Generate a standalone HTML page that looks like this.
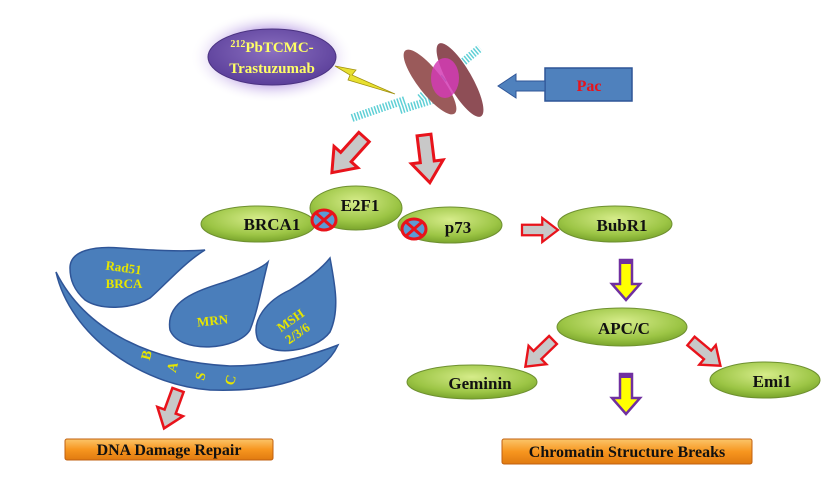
<!DOCTYPE html>
<html><head><meta charset="utf-8"><style>
html,body{margin:0;padding:0;background:#fff}
svg{display:block}
text{font-family:"Liberation Serif",serif;font-weight:bold}
</style></head><body>
<svg width="831" height="494" viewBox="0 0 831 494" xmlns="http://www.w3.org/2000/svg">
<defs>
<radialGradient id="g" cx="50%" cy="35%" r="65%"><stop offset="0" stop-color="#d6ec8a"/><stop offset="0.7" stop-color="#9cc545"/><stop offset="1" stop-color="#7aa52c"/></radialGradient>
<radialGradient id="pg" cx="50%" cy="40%" r="60%"><stop offset="0" stop-color="#8a6fc0"/><stop offset="1" stop-color="#5b3f9a"/></radialGradient>
<radialGradient id="glow" cx="50%" cy="50%" r="50%"><stop offset="0.6" stop-color="#c9b4ea"/><stop offset="1" stop-color="#ffffff" stop-opacity="0"/></radialGradient>
<linearGradient id="og" x1="0" y1="0" x2="0" y2="1"><stop offset="0" stop-color="#fbc56a"/><stop offset="0.5" stop-color="#f7961f"/><stop offset="1" stop-color="#e07a10"/></linearGradient>
<path id="ra" d="M-7,0 H7 V27 H16 L0,48 L-16,27 H-7 Z"/>
</defs>

<ellipse cx="272" cy="57" rx="82" ry="46" fill="url(#glow)"/>
<ellipse cx="272" cy="57" rx="64" ry="28" fill="url(#pg)" stroke="#4a3280" stroke-width="1"/>
<text x="272" y="52" font-size="15" fill="#ffff66" text-anchor="middle"><tspan font-size="10" dy="-5">212</tspan><tspan dy="5">PbTCMC-</tspan></text>
<text x="272" y="73" font-size="15" fill="#ffff66" text-anchor="middle">Trastuzumab</text>
<path d="M335,66 L356,70 L352,75 L395,94 L348,80 L350,75 Z" fill="#e8e030" stroke="#a09010" stroke-width="0.8"/>

<g stroke="#5fd0d6" stroke-width="8" stroke-dasharray="1.5 1.5" fill="none">
<path d="M352,118 L405,100"/>
<path d="M420,98 L480,48"/>
<path d="M400,110 L445,96"/>
</g>
<ellipse cx="430" cy="82" rx="12" ry="40" transform="rotate(-38 430 82)" fill="#9a5a5a"/>
<ellipse cx="460" cy="80" rx="12" ry="42" transform="rotate(-30 460 80)" fill="#8e4e56"/>
<ellipse cx="445" cy="78" rx="14" ry="20" fill="#d23cb4" opacity="0.85"/>

<rect x="545" y="68" width="87" height="33" fill="#4f81bd" stroke="#2f5597" stroke-width="1.5"/>
<text x="589" y="91" font-size="16" fill="#e8131b" text-anchor="middle">Pac</text>
<path d="M545,81 H516 V74 L498,86 L516,98 V91 H545 Z" fill="#4f81bd" stroke="#2f5597" stroke-width="1"/>

<g fill="#c8c8c8" stroke="#e8131b" stroke-width="3">
<use href="#ra" transform="translate(364,137) rotate(42)"/>
<use href="#ra" transform="translate(424,135) rotate(-7)"/>
<use href="#ra" transform="translate(522,230) rotate(-90) scale(0.75)"/>
<use href="#ra" transform="translate(553,340) rotate(46) scale(0.8)"/>
<use href="#ra" transform="translate(691,341) rotate(-50) scale(0.8)"/>
<use href="#ra" transform="translate(178,390) rotate(20) scale(0.85)"/>
</g>

<g stroke="#6e9030" stroke-width="1">
<ellipse cx="258" cy="224" rx="57" ry="18" fill="url(#g)"/>
<ellipse cx="450" cy="225" rx="52" ry="18" fill="url(#g)"/>
<ellipse cx="356" cy="208" rx="46" ry="22" fill="url(#g)"/>
<ellipse cx="615" cy="224" rx="57" ry="18" fill="url(#g)"/>
<ellipse cx="622" cy="327" rx="65" ry="19" fill="url(#g)"/>
<ellipse cx="472" cy="382" rx="65" ry="17" fill="url(#g)"/>
<ellipse cx="765" cy="380" rx="55" ry="18" fill="url(#g)"/>
</g>
<g font-size="17" fill="#111" text-anchor="middle">
<text x="272" y="230">BRCA1</text>
<text x="360" y="211">E2F1</text>
<text x="458" y="233">p73</text>
<text x="622" y="231">BubR1</text>
<text x="624" y="334">APC/C</text>
<text x="480" y="389">Geminin</text>
<text x="772" y="387">Emi1</text>
</g>
<g stroke="#e8131b" stroke-width="3" fill="#5b9bd5">
<ellipse cx="324" cy="220" rx="12" ry="10"/>
<ellipse cx="414" cy="229" rx="12" ry="10"/>
</g>
<g stroke="#e8131b" stroke-width="3">
<path d="M316,213 L332,227 M332,213 L316,227"/>
<path d="M406,222 L422,236 M422,222 L406,236"/>
</g>

<g fill="#ffff00" stroke="#7030a0" stroke-width="2.5">
<path d="M620,260 H632 V284 H640 L626,300 L612,284 H620 Z"/>
<path d="M620,374 H632 V398 H640 L626,414 L612,398 H620 Z"/>
</g>
<rect x="620" y="260" width="12" height="4" fill="#7030a0"/>
<rect x="620" y="374" width="12" height="4" fill="#7030a0"/>

<g fill="#4a7ebb" stroke="#2f5597" stroke-width="1.5">
<path d="M70,268 C70,250 95,246 120,248 C150,250 180,252 205,250 C185,262 165,285 150,298 C130,310 100,310 85,300 C74,290 70,280 70,268 Z"/>
<path d="M170,330 C165,300 200,290 225,282 C245,275 262,268 268,262 C262,285 258,310 250,330 C238,350 180,355 170,330 Z"/>
<path d="M258,340 C250,320 268,300 290,290 C310,278 322,268 330,258 C335,285 340,310 330,332 C315,352 270,358 258,340 Z"/>
<path d="M56,272 C85,330 150,362 230,366 C280,366 320,352 338,345 C322,380 270,392 210,390 C140,385 70,335 56,272 Z"/>
</g>
<g fill="#e6e600" font-size="13" text-anchor="middle">
<text x="123" y="272" transform="rotate(8 123 272)">Rad51</text>
<text x="124" y="288" font-weight="normal">BRCA</text>
<text x="213" y="325" transform="rotate(-6 213 325)">MRN</text>
<text x="293" y="324" transform="rotate(-35 293 324)">MSH</text>
<text x="300" y="337" font-weight="normal" transform="rotate(-35 300 337)">2/3/6</text>
</g>
<g fill="#e6e600" font-size="14" font-family="Liberation Sans,sans-serif" text-anchor="middle">
<text x="146" y="360" transform="rotate(-75 146 355)">B</text>
<text x="172" y="372" transform="rotate(-75 172 367)">A</text>
<text x="200" y="381" transform="rotate(-75 200 376)">S</text>
<text x="230" y="385" transform="rotate(-75 230 380)">C</text>
</g>

<rect x="65" y="439" width="208" height="21" rx="2" fill="url(#og)" stroke="#c06010" stroke-width="1"/>
<text x="169" y="455" font-size="16" fill="#111" text-anchor="middle">DNA Damage Repair</text>
<rect x="502" y="439" width="250" height="25" rx="2" fill="url(#og)" stroke="#c06010" stroke-width="1"/>
<text x="627" y="457" font-size="16" fill="#111" text-anchor="middle">Chromatin Structure Breaks</text>
</svg>
</body></html>
